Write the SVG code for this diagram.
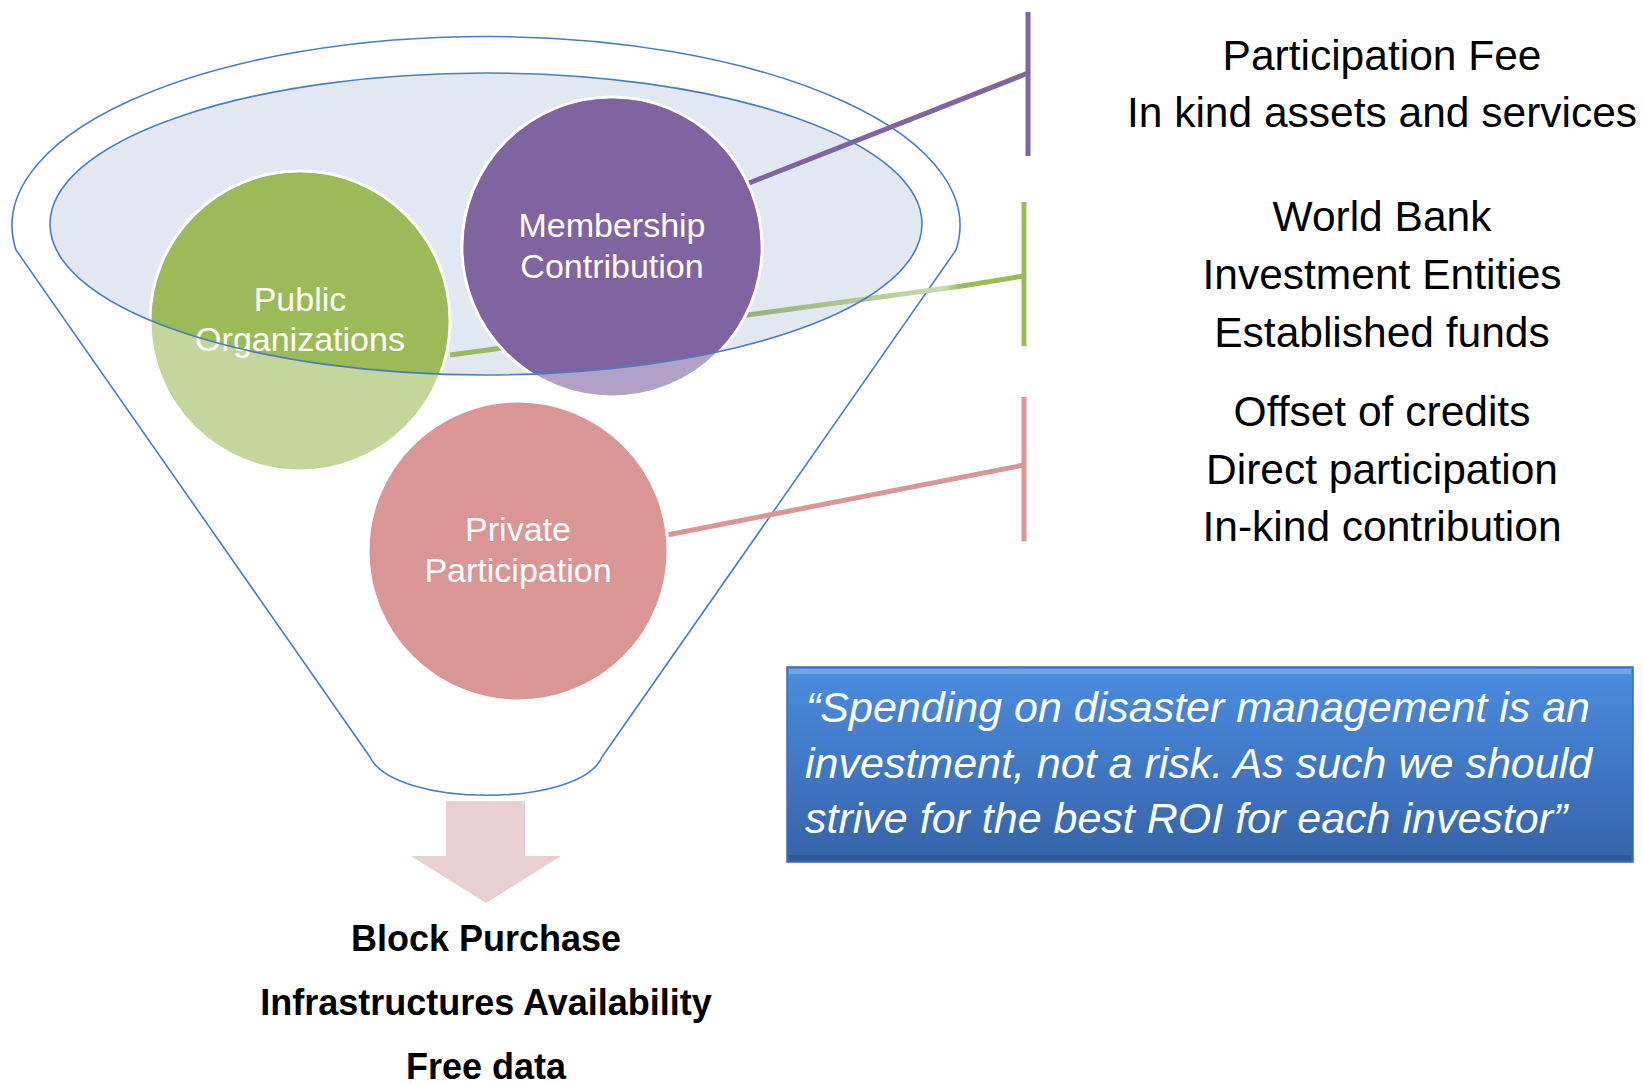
<svg xmlns="http://www.w3.org/2000/svg" width="1643" height="1084" viewBox="0 0 1643 1084">
<style>
.funnel{fill:none;stroke:#4a7ebb;stroke-width:1.6}
.ctext{font-family:"Liberation Sans",Arial,sans-serif;font-size:34px;fill:#ffffff;text-anchor:middle}
.rtext{font-family:"Liberation Sans",Arial,sans-serif;font-size:42.5px;fill:#000000;text-anchor:middle}
.btext{font-family:"Liberation Sans",Arial,sans-serif;font-size:36px;font-weight:bold;fill:#000000;text-anchor:middle}
.qtext{font-family:"Liberation Sans",Arial,sans-serif;font-size:43px;font-style:italic;fill:#ffffff}
.ring{stroke:#ffffff;stroke-width:3}
</style>
<defs>
<clipPath id="inner"><ellipse cx="486" cy="224" rx="436" ry="151"/></clipPath>
<linearGradient id="boxg" x1="0" y1="0" x2="0" y2="1">
<stop offset="0" stop-color="#4b8de0"/>
<stop offset="1" stop-color="#3563a8"/>
</linearGradient>
<linearGradient id="greenG" gradientUnits="userSpaceOnUse" x1="450" y1="0" x2="1024" y2="0">
<stop offset="0" stop-color="#9bbb59"/>
<stop offset="0.5" stop-color="#94ad77"/>
<stop offset="0.86" stop-color="#c9dbab"/>
<stop offset="0.89" stop-color="#9bbb59"/>
<stop offset="1" stop-color="#9bbb59"/>
</linearGradient>
</defs>
<rect x="0" y="0" width="1643" height="1084" fill="#ffffff"/>

<g id="funnel">
<path class="funnel" d="M16 250 A474 189 0 1 1 956 250 L602 757 C580 808 395 808 370 757 Z"/>
<ellipse cx="486" cy="224" rx="436" ry="151" fill="#e2e8f1"/>
</g>

<g id="connectors">
<line x1="1028" y1="12" x2="1028" y2="156" stroke="#8064a2" stroke-width="5"/>
<line x1="1024" y1="202" x2="1024" y2="346" stroke="#9bbb59" stroke-width="5"/>
<line x1="1024" y1="397" x2="1024" y2="541" stroke="#d99694" stroke-width="5"/>
<line x1="749" y1="183" x2="1028" y2="73" stroke="#8064a2" stroke-width="5"/>
<polyline points="450,355 962,286 1024,276" fill="none" stroke="url(#greenG)" stroke-width="5"/>
<line x1="667" y1="535" x2="1024" y2="465" stroke="#d99694" stroke-width="5"/>
</g>

<g id="public-organizations">
<circle class="ring" cx="300" cy="321" r="150" fill="#c3d69b"/>
<circle cx="300" cy="321" r="148.5" fill="#9bbb59" clip-path="url(#inner)"/>
<text class="ctext" x="300" y="311">Public</text>
<text class="ctext" x="300" y="351">Organizations</text>
</g>

<g id="membership-contribution">
<circle class="ring" cx="612" cy="247" r="150" fill="#b2a1c7"/>
<circle cx="612" cy="247" r="148.5" fill="#8064a2" clip-path="url(#inner)"/>
<text class="ctext" x="612" y="237">Membership</text>
<text class="ctext" x="612" y="278">Contribution</text>
</g>

<g id="private-participation">
<circle class="ring" cx="518" cy="551" r="150" fill="#d99694"/>
<text class="ctext" x="518" y="541">Private</text>
<text class="ctext" x="518" y="582">Participation</text>
</g>

<g id="funnel-rim">
<ellipse cx="486" cy="224" rx="436" ry="151" fill="none" stroke="#4a7ebb" stroke-width="1.6"/>
</g>

<g id="output-arrow">
<polygon points="446,801 525,801 525,856 561,856 486,903 411,856 446,856" fill="#e8cfd0"/>
</g>

<g id="outputs">
<text class="btext" x="486" y="951">Block Purchase</text>
<text class="btext" x="486" y="1015">Infrastructures Availability</text>
<text class="btext" x="486" y="1079">Free data</text>
</g>

<g id="membership-items">
<text class="rtext" x="1382" y="70">Participation Fee</text>
<text class="rtext" x="1382" y="127">In kind assets and services</text>
</g>

<g id="public-items">
<text class="rtext" x="1382" y="231">World Bank</text>
<text class="rtext" x="1382" y="289">Investment Entities</text>
<text class="rtext" x="1382" y="347">Established funds</text>
</g>

<g id="private-items">
<text class="rtext" x="1382" y="426">Offset of credits</text>
<text class="rtext" x="1382" y="484">Direct participation</text>
<text class="rtext" x="1382" y="541">In-kind contribution</text>
</g>

<g id="quote-box">
<rect x="787" y="667" width="846" height="195" fill="url(#boxg)" stroke="#3a6aad" stroke-width="1.5"/>
<rect x="789" y="669" width="842" height="5" fill="#7fb0ea" opacity="0.7"/>
<rect x="789" y="855" width="842" height="5" fill="#2a5190" opacity="0.6"/>
<text class="qtext" x="806" y="722">“Spending on disaster management is an</text>
<text class="qtext" x="805" y="778">investment, not a risk. As such we should</text>
<text class="qtext" x="805" y="833">strive for the best ROI for each investor”</text>
</g>
</svg>
